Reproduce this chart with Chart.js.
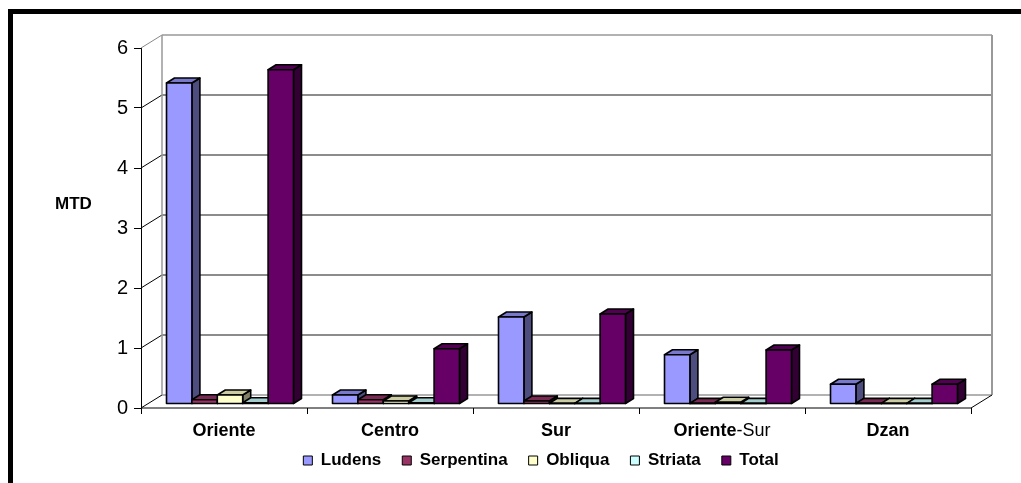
<!DOCTYPE html>
<html lang="es">
<head>
    <meta charset="UTF-8">
    <title>MTD por zona</title>
    <script src="https://cdn.jsdelivr.net/npm/chart.js"></script>
    <style>
        body {
            margin: 0;
            background: #fff;
        }
        canvas {
            display: block;
        }
    </style>
</head>
<body>
    <canvas id="mtdChart" width="1021" height="483"></canvas>

    <script>
        // zonas y valores por especie
        const zonas = ['Oriente', 'Centro', 'Sur', 'Oriente-Sur', 'Dzan'];
        const ludens = [5.35, 0.15, 1.45, 0.82, 0.33];
        const serpentina = [0.07, 0.07, 0.05, 0.01, 0.01];
        const obliqua = [0.15, 0.05, 0.01, 0.03, 0.01];
        const striata = [0.02, 0.02, 0.01, 0.01, 0.01];
        const total = [5.57, 0.92, 1.5, 0.9, 0.33];
        const yTicks = [0, 1, 2, 3, 4, 5, 6];

        const FONT = 'Arial, "Liberation Sans", sans-serif';

        // colores: frente, tapa, costado
        const series = [
            { label: 'Ludens', data: ludens, front: '#9999FF', top: '#7878CC', side: '#4D4D80' },
            { label: 'Serpentina', data: serpentina, front: '#993366', top: '#7A2952', side: '#4D1A33' },
            { label: 'Obliqua', data: obliqua, front: '#FFFFCC', top: '#CCCCA3', side: '#808066' },
            { label: 'Striata', data: striata, front: '#CCFFFF', top: '#A3CCCC', side: '#668080' },
            { label: 'Total', data: total, front: '#660066', top: '#520052', side: '#330033' }
        ];

        // profundidad de la caja y de cada barra
        const DEPTH = { x: 21, y: -13 };
        const BAR_OFF = { x: 6, y: -4 };
        const BAR_DEPTH = { x: 8, y: -5 };

        function line(ctx, x1, y1, x2, y2, color, w) {
            ctx.beginPath();
            ctx.moveTo(x1, y1);
            ctx.lineTo(x2, y2);
            ctx.strokeStyle = color;
            ctx.lineWidth = w;
            ctx.stroke();
        }

        function drawBox(ctx, x0, x1, yTop, yBot, s) {
            const dx = BAR_DEPTH.x, dy = BAR_DEPTH.y;
            ctx.lineWidth = 1.6;
            ctx.strokeStyle = '#000';
            ctx.lineJoin = 'round';

            ctx.beginPath();
            ctx.moveTo(x1, yBot);
            ctx.lineTo(x1 + dx, yBot + dy);
            ctx.lineTo(x1 + dx, yTop + dy);
            ctx.lineTo(x1, yTop);
            ctx.closePath();
            ctx.fillStyle = s.side;
            ctx.fill();
            ctx.stroke();

            ctx.beginPath();
            ctx.moveTo(x0, yTop);
            ctx.lineTo(x0 + dx, yTop + dy);
            ctx.lineTo(x1 + dx, yTop + dy);
            ctx.lineTo(x1, yTop);
            ctx.closePath();
            ctx.fillStyle = s.top;
            ctx.fill();
            ctx.stroke();

            ctx.beginPath();
            ctx.rect(x0, yTop, x1 - x0, yBot - yTop);
            ctx.fillStyle = s.front;
            ctx.fill();
            ctx.stroke();
        }

        const box3d = {
            id: 'box3d',
            beforeDatasetsDraw(chart) {
                const { ctx, chartArea: a, scales: { x, y } } = chart;
                const bx = a.left + DEPTH.x, bTop = a.top + DEPTH.y;
                const bRight = a.right + DEPTH.x;
                ctx.save();

                // pared del fondo: líneas de la grilla
                yTicks.forEach(v => {
                    const py = y.getPixelForValue(v);
                    if (v > 0 && v < 6) line(ctx, bx, py + DEPTH.y, bRight, py + DEPTH.y, '#666', 1.3);
                    line(ctx, a.left, py, bx, py + DEPTH.y, v === 6 ? '#888' : '#000', 1);
                });
                const base = y.getPixelForValue(0);
                line(ctx, bx, base + DEPTH.y, bRight, base + DEPTH.y, '#999', 1.5);
                line(ctx, bx, bTop, bx, base + DEPTH.y, '#999', 1.5);
                line(ctx, bx, bTop, bRight, bTop, '#999', 1.5);
                line(ctx, bRight, bTop, bRight, base + DEPTH.y, '#999', 2);

                // piso
                line(ctx, a.left, base, a.right, base, '#000', 1);
                line(ctx, a.right, base, bRight, base + DEPTH.y, '#000', 1);
                const step = (a.right - a.left) / zonas.length;
                for (let i = 0; i <= zonas.length; i++) {
                    const tx = Math.round(a.left + i * step) + 0.5;
                    line(ctx, tx, base, tx, base + 6, '#000', 1);
                }

                // barras, de izquierda a derecha
                zonas.forEach((z, i) => {
                    series.forEach((s, d) => {
                        const bar = chart.getDatasetMeta(d).data[i];
                        const p = bar.getProps(['x', 'y', 'base', 'width'], true);
                        const x0 = p.x - p.width / 2 + BAR_OFF.x;
                        const x1 = p.x + p.width / 2 + BAR_OFF.x;
                        drawBox(ctx, x0, x1, p.y + BAR_OFF.y, p.base + BAR_OFF.y, s);
                    });
                });
                ctx.restore();
                return false;
            },
            afterDraw(chart) {
                const { ctx, chartArea: a, scales: { x } } = chart;
                ctx.save();
                ctx.fillStyle = '#000';
                ctx.textBaseline = 'alphabetic';

                // etiquetas de zona
                zonas.forEach((z, i) => {
                    const cx = x.getPixelForValue(i);
                    const ty = a.bottom + 28;
                    const parts = z === 'Oriente-Sur'
                        ? [['bold', 'Oriente'], ['normal', '-Sur']]
                        : [['bold', z]];
                    let w = 0;
                    parts.forEach(pt => {
                        ctx.font = pt[0] + ' 18px ' + FONT;
                        w += ctx.measureText(pt[1]).width;
                    });
                    let tx = cx - w / 2;
                    ctx.textAlign = 'left';
                    parts.forEach(pt => {
                        ctx.font = pt[0] + ' 18px ' + FONT;
                        ctx.fillText(pt[1], tx, ty);
                        tx += ctx.measureText(pt[1]).width;
                    });
                });

                // título del eje
                ctx.font = 'bold 17px ' + FONT;
                ctx.fillText('MTD', 55, 209);

                // marco
                ctx.fillRect(8, 9, 1013, 5);
                ctx.fillRect(8, 9, 5, 474);
                ctx.restore();
            }
        };

        new Chart(document.getElementById('mtdChart'), {
            type: 'bar',
            data: {
                labels: zonas,
                datasets: series.map(s => ({
                    label: s.label,
                    data: s.data,
                    backgroundColor: s.front,
                    borderColor: '#000',
                    borderWidth: 1
                }))
            },
            options: {
                responsive: false,
                animation: false,
                layout: { padding: { left: 111, right: 50, top: 48, bottom: 4 } },
                datasets: {
                    bar: { categoryPercentage: 0.765, barPercentage: 1.0 }
                },
                plugins: {
                    legend: {
                        position: 'bottom',
                        labels: {
                            boxWidth: 9,
                            boxHeight: 9,
                            padding: 21,
                            color: '#000',
                            font: { family: FONT, size: 17, weight: 'bold' }
                        }
                    },
                    tooltip: { enabled: false }
                },
                scales: {
                    x: {
                        ticks: { display: false },
                        grid: { display: false },
                        border: { display: false },
                        afterFit(scale) { scale.height = 23; }
                    },
                    y: {
                        min: 0,
                        max: 6,
                        ticks: {
                            stepSize: 1,
                            padding: 6,
                            color: '#000',
                            font: { family: FONT, size: 20 }
                        },
                        grid: { drawOnChartArea: false, tickLength: 7, color: '#000' },
                        border: { display: true, color: '#000', width: 1 },
                        afterFit(scale) { scale.width = 30; }
                    }
                }
            },
            plugins: [box3d]
        });
    </script>
</body>
</html>
